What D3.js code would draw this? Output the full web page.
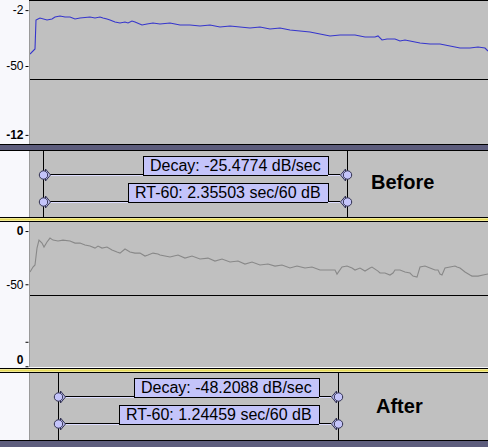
<!DOCTYPE html>
<html><head><meta charset="utf-8">
<script src="https://cdn.jsdelivr.net/npm/d3@7"></script>
<style>html,body{margin:0;padding:0;background:#fff;} svg{display:block;font-family:"Liberation Sans",Arial,sans-serif;}</style>
</head><body><svg id="c" width="488" height="447"></svg>
<script>
// ---------- data ----------
const timeDomain = [0, 4.58];
const timesBefore = [0,.05,.06,.08,.10,.17,.22,.25,.30,.35,.40,.45,.50,.60,.65,.70,.73,.77,.80,.85,.90,.95,.98,1.02,1.05,1.12,1.17,1.23,1.30,1.40,1.50,1.60,1.70,1.80,1.90,2.00,2.10,2.20,2.30,2.40,2.50,2.60,2.70,2.80,2.90,3.00,3.10,3.25,3.35,3.45,3.48,3.52,3.57,3.65,3.70,3.75,3.80,3.90,4.00,4.10,4.20,4.30,4.40,4.48,4.55,4.58];
const dbBefore = [-40.8,-36.9,-14.6,-13.8,-13.1,-14.6,-13.8,-12.3,-11.5,-12.3,-12.3,-13.8,-13.1,-12.3,-13.1,-12.3,-13.1,-13.8,-14.6,-16.2,-16.9,-16.2,-16.9,-15.4,-16.2,-18.5,-17.7,-16.9,-17.7,-16.9,-18.5,-18.5,-19.2,-18.5,-20.0,-19.2,-20.0,-20.8,-20.0,-21.5,-20.8,-22.3,-23.1,-23.8,-25.4,-26.9,-26.2,-26.2,-27.7,-27.7,-26.9,-30.0,-29.2,-29.2,-30.8,-30.0,-30.8,-32.3,-33.1,-33.1,-34.6,-36.2,-36.2,-35.4,-36.2,-38.5];
const timesAfter = [0,.03,.05,.07,.09,.12,.14,.17,.20,.23,.28,.33,.40,.45,.50,.55,.60,.65,.68,.72,.77,.82,.87,.90,.95,1.00,1.05,1.10,1.15,1.18,1.23,1.28,1.30,1.40,1.48,1.55,1.62,1.70,1.78,1.85,1.92,2.00,2.08,2.15,2.22,2.30,2.38,2.45,2.52,2.60,2.67,2.75,2.82,2.90,3.05,3.07,3.12,3.17,3.22,3.25,3.30,3.35,3.40,3.42,3.48,3.50,3.55,3.60,3.63,3.65,3.70,3.75,3.80,3.83,3.87,3.90,3.95,4.00,4.05,4.08,4.10,4.12,4.15,4.20,4.25,4.27,4.30,4.35,4.40,4.42,4.48,4.53,4.58];
const dbAfter = [-38.5,-33.8,-31.9,-16.0,-8.5,-11.3,-15.0,-10.3,-6.6,-8.5,-9.4,-8.5,-9.4,-11.3,-11.3,-13.1,-14.1,-16.0,-14.1,-16.0,-15.0,-17.8,-19.7,-20.7,-16.9,-19.7,-20.7,-20.7,-23.5,-22.5,-20.7,-21.6,-22.5,-24.4,-22.5,-25.4,-23.5,-26.3,-25.4,-28.2,-26.3,-29.1,-28.2,-31.0,-29.1,-31.9,-31.0,-32.9,-31.9,-34.7,-32.9,-34.7,-33.8,-36.6,-36.6,-40.4,-33.8,-32.9,-34.7,-36.6,-34.7,-37.6,-34.7,-33.8,-37.6,-39.4,-39.4,-41.3,-39.4,-36.6,-36.6,-38.5,-39.4,-42.3,-43.2,-33.8,-32.9,-34.7,-36.6,-36.6,-40.4,-41.3,-34.7,-33.8,-32.9,-33.8,-34.7,-38.5,-41.3,-42.3,-42.3,-41.3,-40.4];
const tickValsBefore = [-7, -50, -103];
const tickLabelsBefore = ["-2", "-50", "-12"];
const tickValsAfter = [0, -50, -104, -127];
const tickLabelsAfter = ["0", "-50", "", "0"];
const rt60Level = -60;
const regionBefore = [0.13, 3.17];
const regionAfter = [0.28, 3.08];
const labelsBefore = ["Decay: -25.4774 dB/sec", "RT-60: 2.35503 sec/60 dB"];
const labelsAfter = ["Decay: -48.2088 dB/sec", "RT-60: 1.24459 sec/60 dB"];
const trackNames = ["Before", "After"];

// ---------- layout ----------
const W = 488, H = 447, RX = 29;
const svg = d3.select("#c");
const x = d3.scaleLinear().domain(timeDomain).range([30, 488]);

svg.append("rect").attr("width", W).attr("height", H).attr("fill", "#f8f8fc");

function hline(y, color) {
  svg.append("rect").attr("x", 0).attr("y", y).attr("width", W).attr("height", 1).attr("fill", color);
}
function band(y, h, color) {
  svg.append("rect").attr("x", 0).attr("y", y).attr("width", W).attr("height", h).attr("fill", color);
}

function wavePanel(top, bottom, yDomain, times, dbs, color, tickVals, tickLabels, boldIdx, shiftIdx) {
  const y = d3.scaleLinear().domain(yDomain).range([top, bottom]);
  svg.append("rect").attr("x", RX).attr("y", top).attr("width", W - RX).attr("height", bottom - top).attr("fill", "#c0c0c0");
  svg.append("rect").attr("x", RX).attr("y", top).attr("width", 1).attr("height", bottom - top).attr("fill", "#9a9a9a");
  const id = "clip" + top;
  svg.append("clipPath").attr("id", id).append("rect").attr("x", 30).attr("y", top).attr("width", W - 30).attr("height", bottom - top);
  const g = svg.append("g").attr("clip-path", `url(#${id})`);
  const yl = Math.round(y(rt60Level)) + 0.5;
  g.append("line").attr("x1", 30).attr("x2", W).attr("y1", yl).attr("y2", yl).attr("stroke", "#000").attr("stroke-width", 1);
  const pts = times.map((t, i) => [t, dbs[i]]);
  g.append("path").datum(pts)
    .attr("d", d3.line().x(d => x(d[0])).y(d => y(d[1])))
    .attr("fill", "none").attr("stroke", color).attr("stroke-width", 1.1);
  const ax = svg.append("g").attr("transform", `translate(28.5,0)`)
    .call(d3.axisLeft(y).tickValues(tickVals).tickSize(3).tickPadding(2)
      .tickFormat((d, i) => tickLabels[i]));
  ax.select(".domain").remove();
  ax.selectAll("line").attr("stroke", "#000");
  ax.selectAll("text").attr("font-size", 12).attr("font-family", "Liberation Sans, Arial, sans-serif")
    .attr("fill", "#000")
    .attr("font-weight", (d, i) => boldIdx.includes(i) ? "bold" : "normal")
    .attr("dy", (d, i) => shiftIdx.includes(i) ? "-0.25em" : "0.32em");
}

function labelPanel(top, bottom, region, labels, name, nameX, nameY) {
  svg.append("rect").attr("x", RX).attr("y", top).attr("width", W - RX).attr("height", bottom - top).attr("fill", "#c0c0c0");
  svg.append("rect").attr("x", RX).attr("y", top).attr("width", 1).attr("height", bottom - top).attr("fill", "#9a9a9a");
  const x0 = Math.round(x(region[0])), x1 = Math.round(x(region[1]));
  [x0, x1].forEach(xx => svg.append("line").attr("x1", xx + 0.5).attr("x2", xx + 0.5)
    .attr("y1", top).attr("y2", bottom).attr("stroke", "#000"));
  labels.forEach((lab, i) => {
    const bt = top + 5 + i * 27, bh = 19;
    const g = svg.append("g");
    const txt = g.append("text").text(lab).attr("font-size", 16).attr("fill", "#000")
      .attr("font-family", "Liberation Sans, Arial, sans-serif");
    const tw = txt.node().getComputedTextLength();
    const bw = Math.round(tw + 14);
    const br = x1 - 19, bl = br - bw;
    const cy = bt + bh;
    // connecting lines
    [[x0 + 7, bl], [br, x1 - 7]].forEach(([a, b]) => {
      g.append("line").attr("x1", a).attr("x2", b).attr("y1", cy - 0.5).attr("y2", cy - 0.5).attr("stroke", "#000");
      g.append("line").attr("x1", a).attr("x2", b).attr("y1", cy + 0.5).attr("y2", cy + 0.5).attr("stroke", "#dcdcff");
    });
    g.insert("rect", "text").attr("x", bl + 0.5).attr("y", bt + 0.5).attr("width", bw).attr("height", bh)
      .attr("fill", "#c4c4fa").attr("stroke", "#000");
    txt.attr("x", bl + 7).attr("y", bt + 15);
    // handles
    [[x0 + 0.5, 1], [x1 + 0.5, -1]].forEach(([cx, dir]) => {
      g.append("path").attr("d", `M${cx + dir * 2},${cy - 6} L${cx + dir * 7},${cy} L${cx + dir * 2},${cy + 6} Z`)
        .attr("fill", "#c4c4fa").attr("stroke", "#303050").attr("stroke-width", 1);
      g.append("circle").attr("cx", cx).attr("cy", cy).attr("r", 4.2)
        .attr("fill", "#c4c4fa").attr("stroke", "#303050").attr("stroke-width", 1);
    });
  });
  svg.append("text").text(name).attr("x", nameX).attr("y", nameY).attr("font-size", 20)
    .attr("font-weight", "bold").attr("fill", "#000").attr("font-family", "Liberation Sans, Arial, sans-serif");
}

// top border
svg.append("rect").attr("x", RX).attr("y", 0).attr("width", W - RX).attr("height", 1).attr("fill", "#000");
wavePanel(1, 144, [0, -110], timesBefore, dbBefore, "#3535cc", tickValsBefore, tickLabelsBefore, [2], []);
hline(144, "#000"); band(145, 5, "#5d5d7d"); hline(150, "#000");
labelPanel(151, 217, regionBefore, labelsBefore, trackNames[0], 371, 189);
hline(217, "#000"); band(218, 3, "#f2ea94"); band(219, 1, "#e6da5a"); hline(221, "#000");
wavePanel(222, 367, [8.5, -127.7], timesAfter, dbAfter, "#888888", tickValsAfter, tickLabelsAfter, [0, 3], [3]);
hline(368, "#000"); band(369, 3, "#f2ea94"); band(370, 1, "#e6da5a"); hline(372, "#000");
labelPanel(373, 440, regionAfter, labelsAfter, trackNames[1], 376, 413);
hline(440, "#000"); band(441, 6, "#5d5d7d");
</script></body></html>
